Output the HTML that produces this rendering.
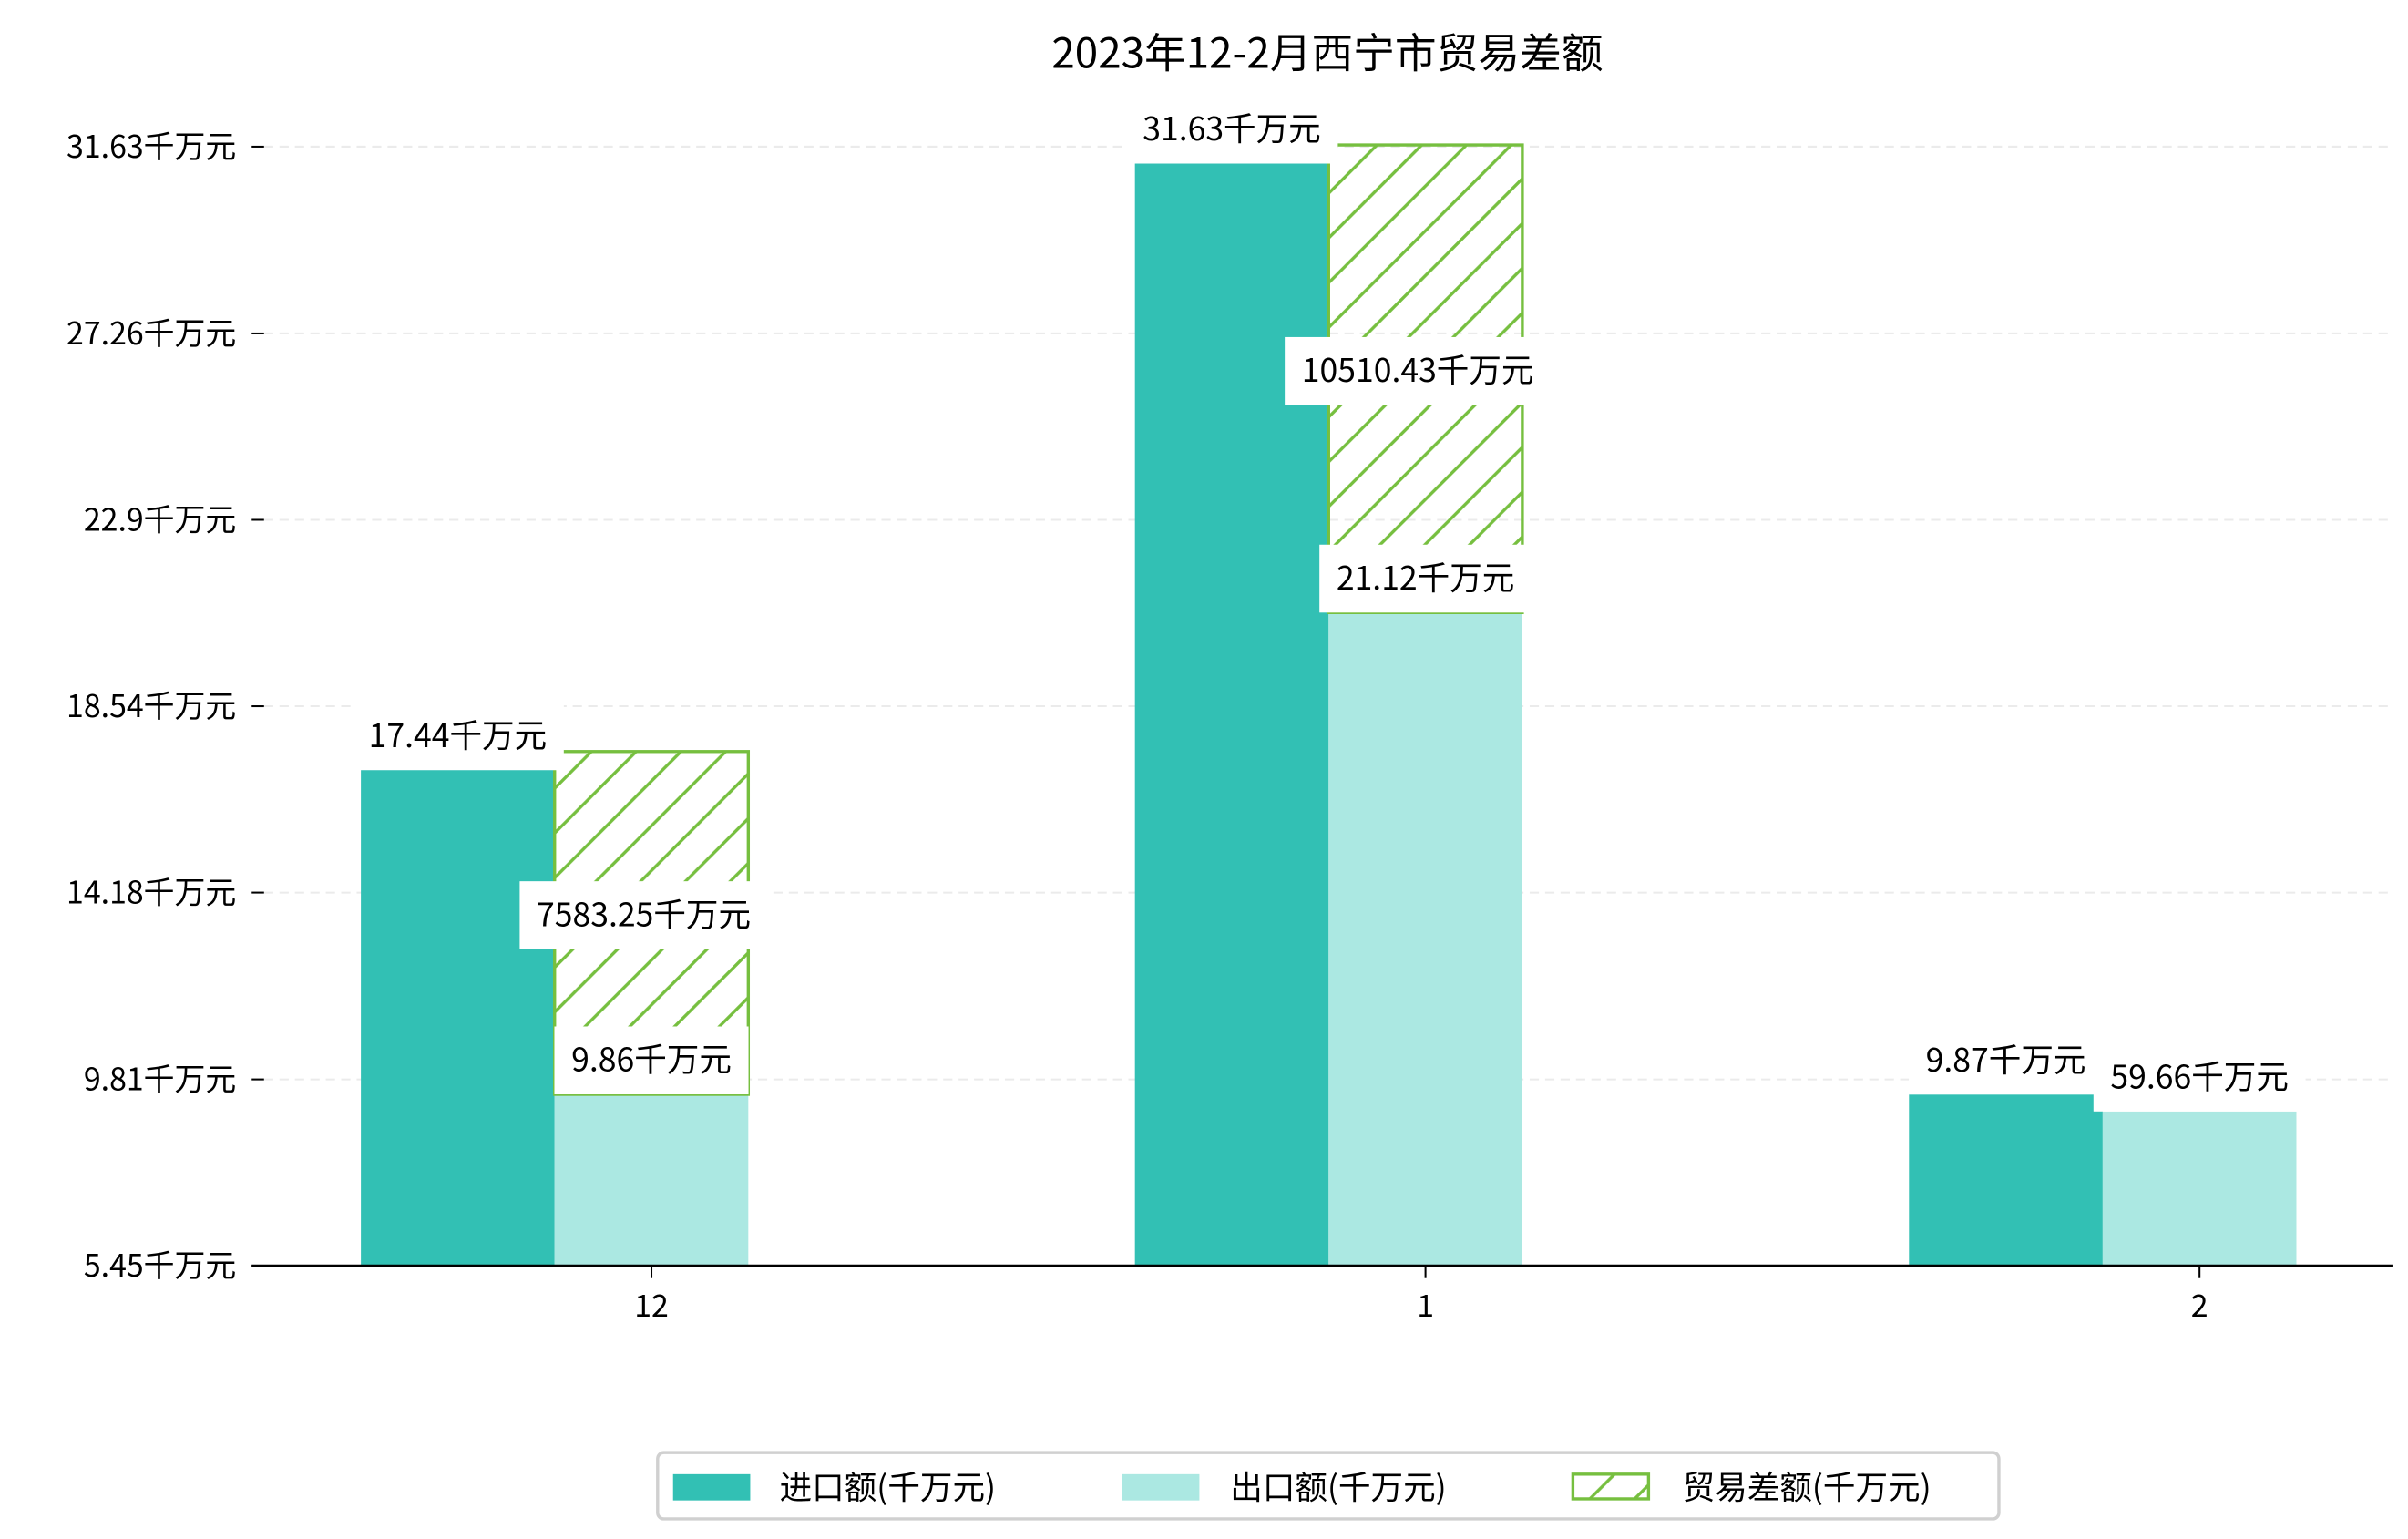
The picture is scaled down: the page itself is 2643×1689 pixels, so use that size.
<!DOCTYPE html>
<html><head><meta charset="utf-8"><style>
html,body{margin:0;padding:0;background:#fff}
svg{display:block}
text{font-family:"WenQuanYi Zen Hei","Noto Sans CJK SC",sans-serif}
</style></head><body>
<svg id="chart" xmlns="http://www.w3.org/2000/svg" width="2643" height="1689" viewBox="0 0 1560 997">
<defs>
<pattern id="hatch" patternUnits="userSpaceOnUse" width="29" height="29">
<path d="M-2,31 L31,-2 M-2,2 L2,-2 M27,31 L31,27" stroke="#76bf3f" stroke-width="2"/>
</pattern>
</defs>
<text x="860" y="44" font-size="27" text-anchor="middle" fill="#000">2023年12-2月西宁市贸易差额</text>
<g id="grid"></g>
<g id="bars"></g>
<g id="labels"></g>
<g id="axes"></g>
<g>
<rect x="426" y="941" width="869" height="43" rx="4" fill="#fff" stroke="#d0d0d0" stroke-width="2"/>
<g>
<rect x="436" y="955" width="50" height="17" fill="#32c0b4"/>
<text x="505" y="971" font-size="21">进口额(千万元)</text></g>
<g>
<rect x="727" y="955" width="50" height="17" fill="#abe8e2"/>
<text x="797" y="971" font-size="21">出口额(千万元)</text></g>
<g>
<rect x="1019" y="955" width="49" height="16" fill="url(#hatch)" stroke="#76bf3f" stroke-width="2"/>
<text x="1090" y="971" font-size="21">贸易差额(千万元)</text></g>
</g>
</svg>
<script>
const categories = ['12', '1', '2'];
const importValues = [17.08, 31.27, 9.49];
const exportValues = [9.46, 20.73, 9.06];
const balanceValues = [8.02, 10.94, 0];
const importLabels = ['17.44千万元', '31.63千万元', '9.87千万元'];
const exportLabels = ['9.86千万元', '21.12千万元', '59.66千万元'];
const balanceLabels = ['7583.25千万元', '10510.43千万元', ''];
const yTicks = [5.45, 9.81, 14.18, 18.54, 22.9, 27.26, 31.63];
const yTickLabels = ['5.45千万元', '9.81千万元', '14.18千万元', '18.54千万元', '22.9千万元', '27.26千万元', '31.63千万元'];

const NS = 'http://www.w3.org/2000/svg';
const X0 = 163, X1 = 1550, Y0 = 820, Y1 = 95, VMIN = 5.45, VMAX = 31.63;
const yScale = v => Y0 - (v - VMIN) / (VMAX - VMIN) * (Y0 - Y1);
const xCenter = i => 422 + i * 501.5;
const BW = 125.5;
function mk(tag, attrs, parent) { const e = document.createElementNS(NS, tag); for (const k in attrs) e.setAttribute(k, attrs[k]); parent.appendChild(e); return e; }
const grid = document.getElementById('grid'), bars = document.getElementById('bars'), labels = document.getElementById('labels'), axes = document.getElementById('axes');

yTicks.forEach((t, i) => {
  const y = yScale(t);
  if (i > 0) {
    const g = mk('line', { x1: 171, x2: X1, y1: y, y2: y, stroke: '#ebebeb', 'stroke-width': 1.2, 'stroke-dasharray': '6,4' }, grid);
    
    
  }
  const tk = mk('line', { x1: 163, x2: 171, y1: y, y2: y, stroke: '#000', 'stroke-width': 1.2 }, axes);
  
  
  const tx = mk('text', { x: 153, y: y + 7, 'font-size': 20, 'text-anchor': 'end' }, axes);
  tx.textContent = yTickLabels[i];
  
  
});

function label(parent, cx, cy, txt, name) {
  if (!txt) return;
  const g = mk('g', {}, parent);
  
  
  const t = mk('text', { x: cx, y: cy + 7, 'font-size': 21, 'text-anchor': 'middle' }, g);
  t.textContent = txt;
  const bb = t.getBBox();
  const r = mk('rect', { x: bb.x - 11, y: cy - 22, width: bb.width + 22, height: 44, fill: '#fff' }, g);
  g.insertBefore(r, t);
}

categories.forEach((c, i) => {
  const cx = xCenter(i);
  const iy = yScale(importValues[i]);
  const b1 = mk('rect', { x: cx - 1.5 * BW, y: iy, width: BW, height: Y0 - iy, fill: '#32c0b4' }, bars);
  
  
  const ey = yScale(exportValues[i]);
  const b2 = mk('rect', { x: cx - 0.5 * BW, y: ey, width: BW, height: Y0 - ey, fill: '#abe8e2' }, bars);
  
  
  if (balanceValues[i] > 0) {
    const hy = yScale(exportValues[i] + balanceValues[i]);
    const b3 = mk('rect', { x: cx - 0.5 * BW, y: hy, width: BW, height: ey - hy, fill: 'url(#hatch)', stroke: '#76bf3f', 'stroke-width': 2 }, bars);
    
    
  }
  const xt = mk('line', { x1: cx, x2: cx, y1: Y0, y2: Y0 + 8, stroke: '#000', 'stroke-width': 1.2 }, axes);
  
  
  const xl = mk('text', { x: cx, y: 853, 'font-size': 20, 'text-anchor': 'middle' }, axes);
  xl.textContent = c;
  
  
});
categories.forEach((c, i) => {
  const cx = xCenter(i);
  label(labels, cx - BW, yScale(importValues[i]) - 21, importLabels[i], 'import-value-label');
});
categories.forEach((c, i) => {
  const cx = xCenter(i);
  const ey = yScale(exportValues[i]);
  label(labels, cx, ey - 22, exportLabels[i], 'export-value-label');
  if (balanceValues[i] > 0) {
    const hy = yScale(exportValues[i] + balanceValues[i]);
    label(labels, cx - 5, (hy + ey) / 2 - 5, balanceLabels[i], 'balance-value-label');
  }
});
const ax = mk('line', { x1: X0, x2: X1, y1: Y0, y2: Y0, stroke: '#000', 'stroke-width': 1.6 }, axes);


</script>
</body></html>
